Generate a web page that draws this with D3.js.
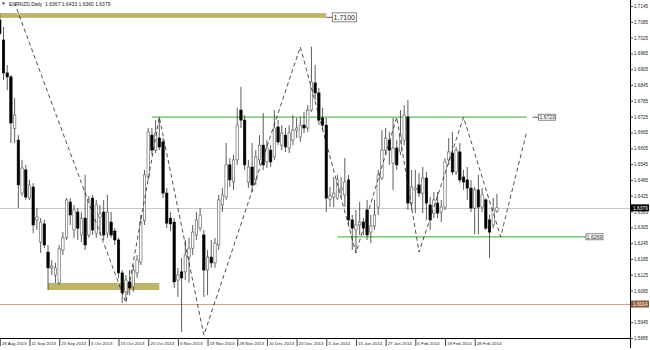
<!DOCTYPE html>
<html>
<head>
<meta charset="utf-8">
<script src="https://cdn.jsdelivr.net/npm/d3@7"></script>
<style>
  body { margin: 0; background: #fff; }
  svg { display: block; }
  text { font-family: "Liberation Sans", Arial, sans-serif; }
</style>
</head>
<body>
<svg width="650" height="350"></svg>
<script>
// EURNZD daily, one value per bar (bar 0 is the partly hidden one at the left edge)
const opens = [1.7092,1.7016,1.6891,1.6876,1.6680,1.6636,1.6435,1.6523,1.6416,1.6458,1.6333,1.6249,1.6318,1.6211,1.6151,1.6124,1.6094,1.6219,1.6265,1.6401,1.6295,1.6363,1.6276,1.6340,1.6276,1.6416,1.6283,1.6344,1.6363,1.6283,1.6325,1.6291,1.6257,1.6132,1.6060,1.6098,1.6079,1.6132,1.6173,1.6330,1.6496,1.6655,1.6598,1.6644,1.6629,1.6435,1.6340,1.6325,1.6105,1.6136,1.6136,1.6192,1.6226,1.6276,1.6302,1.6276,1.6143,1.6192,1.6170,1.6238,1.6390,1.6420,1.6542,1.6477,1.6561,1.6750,1.6712,1.6477,1.6534,1.6485,1.6561,1.6617,1.6553,1.6598,1.6572,1.6686,1.6617,1.6655,1.6606,1.6636,1.6674,1.6648,1.6693,1.6682,1.6750,1.6853,1.6815,1.6720,1.6693,1.6412,1.6420,1.6416,1.6447,1.6428,1.6485,1.6333,1.6295,1.6314,1.6325,1.6371,1.6287,1.6310,1.6382,1.6492,1.6598,1.6636,1.6549,1.6606,1.6591,1.6636,1.6724,1.6397,1.6447,1.6466,1.6435,1.6492,1.6390,1.6359,1.6397,1.6363,1.6382,1.6561,1.6587,1.6515,1.6591,1.6496,1.6485,1.6454,1.6378,1.6447,1.6382,1.6409,1.6333,1.6314,1.6367];
const highs = [1.7118,1.7065,1.6921,1.6883,1.6796,1.6655,1.6561,1.6542,1.6485,1.6473,1.6378,1.6340,1.6333,1.6238,1.6181,1.6170,1.6238,1.6287,1.6416,1.6416,1.6390,1.6378,1.6363,1.6504,1.6424,1.6428,1.6409,1.6390,1.6409,1.6428,1.6363,1.6302,1.6265,1.6143,1.6124,1.6143,1.6162,1.6200,1.6352,1.6523,1.6682,1.6682,1.6712,1.6724,1.6644,1.6454,1.6363,1.6340,1.6151,1.6189,1.6257,1.6265,1.6314,1.6363,1.6378,1.6295,1.6219,1.6257,1.6265,1.6428,1.6454,1.6625,1.6568,1.6580,1.6758,1.6838,1.6731,1.6561,1.6625,1.6598,1.6655,1.6739,1.6636,1.6617,1.6750,1.6712,1.6693,1.6682,1.6693,1.6731,1.6720,1.6724,1.6743,1.6769,1.6990,1.6921,1.6834,1.6758,1.6720,1.6458,1.6496,1.6504,1.6496,1.6568,1.6504,1.6352,1.6371,1.6401,1.6340,1.6409,1.6352,1.6409,1.6523,1.6674,1.6682,1.6667,1.6720,1.6636,1.6750,1.6769,1.6788,1.6523,1.6523,1.6511,1.6534,1.6515,1.6420,1.6439,1.6439,1.6409,1.6568,1.6644,1.6667,1.6610,1.6625,1.6523,1.6534,1.6485,1.6458,1.6504,1.6454,1.6416,1.6352,1.6416,1.6433];
const lows = [1.7035,1.6864,1.6826,1.6625,1.6625,1.6378,1.6424,1.6409,1.6409,1.6283,1.6295,1.6208,1.6226,1.6067,1.6124,1.6094,1.6086,1.6200,1.6257,1.6314,1.6265,1.6257,1.6249,1.6219,1.6265,1.6276,1.6265,1.6276,1.6257,1.6265,1.6265,1.6238,1.6113,1.6018,1.6029,1.6048,1.6060,1.6113,1.6162,1.6314,1.6485,1.6580,1.6587,1.6598,1.6416,1.6302,1.6291,1.6075,1.6041,1.5908,1.6105,1.6094,1.6200,1.6257,1.6291,1.6041,1.6048,1.6151,1.6151,1.6219,1.6363,1.6409,1.6458,1.6447,1.6542,1.6682,1.6523,1.6454,1.6439,1.6466,1.6542,1.6523,1.6530,1.6534,1.6561,1.6617,1.6598,1.6591,1.6587,1.6617,1.6644,1.6629,1.6663,1.6667,1.6743,1.6788,1.6693,1.6674,1.6363,1.6382,1.6382,1.6409,1.6420,1.6382,1.6314,1.6219,1.6208,1.6276,1.6276,1.6257,1.6245,1.6295,1.6352,1.6485,1.6580,1.6542,1.6447,1.6523,1.6580,1.6617,1.6371,1.6371,1.6359,1.6420,1.6359,1.6333,1.6295,1.6340,1.6340,1.6325,1.6371,1.6542,1.6504,1.6504,1.6473,1.6447,1.6409,1.6363,1.6279,1.6279,1.6363,1.6295,1.6189,1.6302,1.6360];
const closes = [1.7040,1.6891,1.6876,1.6701,1.6731,1.6466,1.6530,1.6420,1.6466,1.6314,1.6344,1.6325,1.6238,1.6151,1.6158,1.6151,1.6223,1.6265,1.6409,1.6352,1.6371,1.6302,1.6340,1.6238,1.6409,1.6295,1.6390,1.6356,1.6276,1.6363,1.6276,1.6257,1.6132,1.6056,1.6105,1.6075,1.6143,1.6181,1.6325,1.6504,1.6667,1.6598,1.6663,1.6610,1.6435,1.6321,1.6318,1.6098,1.6124,1.6113,1.6200,1.6226,1.6287,1.6333,1.6352,1.6143,1.6192,1.6170,1.6245,1.6409,1.6428,1.6542,1.6485,1.6561,1.6693,1.6712,1.6542,1.6534,1.6466,1.6572,1.6617,1.6542,1.6606,1.6553,1.6682,1.6629,1.6663,1.6610,1.6663,1.6674,1.6682,1.6693,1.6682,1.6750,1.6857,1.6815,1.6712,1.6693,1.6416,1.6424,1.6435,1.6485,1.6454,1.6477,1.6333,1.6302,1.6314,1.6325,1.6302,1.6276,1.6310,1.6352,1.6504,1.6598,1.6644,1.6598,1.6606,1.6542,1.6655,1.6731,1.6397,1.6458,1.6454,1.6435,1.6492,1.6397,1.6333,1.6409,1.6359,1.6382,1.6553,1.6591,1.6515,1.6598,1.6485,1.6477,1.6454,1.6378,1.6447,1.6382,1.6428,1.6302,1.6287,1.6371,1.6379];

// time axis: one label every 8 bars
const dateLabels = ["28 Aug 2013","11 Sep 2013","23 Sep 2013","3 Oct 2013","15 Oct 2013","25 Oct 2013","6 Nov 2013","18 Nov 2013","28 Nov 2013","10 Dec 2013","20 Dec 2013","3 Jan 2014","15 Jan 2014","27 Jan 2014","6 Feb 2014","18 Feb 2014","28 Feb 2014"];
const dateBars = [0,8,16,24,32,40,48,56,64,72,80,88,96,104,112,120,128];
const priceTicks = [1.7145,1.7085,1.7025,1.6965,1.6905,1.6845,1.6785,1.6725,1.6665,1.6605,1.6545,1.6485,1.6425,1.6365,1.6305,1.6245,1.6185,1.6125,1.6065,1.6005,1.5945,1.5885];

// drawn objects
const zigzagBars = [0,34,43,55,81,96,107,113,125,135,142];
const zigzagPrices = [1.7308,1.6018,1.6723,1.5896,1.6990,1.6208,1.6723,1.6211,1.6723,1.6269,1.6667];
const zoneBars = [[0,88],[13,43]];
const zonePrices = [[1.7100,1.7118],[1.6067,1.6094]];
const levelBars = [[41,142],[91,158]];
const levelPrices = [1.6723,1.6269];
const bidPrice = 1.6379;
const supportPrice = 1.6014;
const header = "EURNZD,Daily  1.6367 1.6433 1.6360 1.6379";

const svg = d3.select("svg");
const plotRight = 630, plotBottom = 338;

const x = d3.scaleLinear().domain([0, 134]).range([-0.2, 496.94]);
const y = d3.scaleLinear().domain([1.5885, 1.7145]).range([338, 6]);

svg.append("defs").append("clipPath").attr("id", "plot")
  .append("rect").attr("x", 0).attr("y", 0).attr("width", plotRight).attr("height", plotBottom);

const plot = svg.append("g").attr("clip-path", "url(#plot)");

// khaki zones
plot.selectAll("rect.zone").data(zoneBars).join("rect")
  .attr("class", "zone")
  .attr("x", d => x(d[0]))
  .attr("width", d => x(d[1]) - x(d[0]))
  .attr("y", (d, i) => y(zonePrices[i][1]))
  .attr("height", (d, i) => y(zonePrices[i][0]) - y(zonePrices[i][1]))
  .attr("fill", "#bdb56b");

// bid line and support line
plot.append("line")
  .attr("x1", 0).attr("x2", plotRight)
  .attr("y1", Math.round(y(bidPrice)) + 0.5).attr("y2", Math.round(y(bidPrice)) + 0.5)
  .attr("stroke", "#c8c8c8");
plot.append("line")
  .attr("x1", 0).attr("x2", plotRight)
  .attr("y1", Math.round(y(supportPrice)) + 0.5).attr("y2", Math.round(y(supportPrice)) + 0.5)
  .attr("stroke", "#c9a48e");

// green levels
plot.selectAll("line.level").data(levelBars).join("line")
  .attr("class", "level")
  .attr("x1", d => x(d[0])).attr("x2", d => x(d[1]))
  .attr("y1", (d, i) => y(levelPrices[i])).attr("y2", (d, i) => y(levelPrices[i]))
  .attr("stroke", "#5cbb5c").attr("stroke-width", 1.2);

// candles
const bars = d3.range(opens.length).map(i => ({i, o: opens[i], h: highs[i], l: lows[i], c: closes[i]}));
const candle = plot.selectAll("g.candle").data(bars).join("g").attr("class", "candle");
candle.append("line")
  .attr("x1", d => x(d.i)).attr("x2", d => x(d.i))
  .attr("y1", d => y(d.h)).attr("y2", d => y(d.l))
  .attr("stroke", "#333").attr("stroke-width", 0.8);
candle.append("rect")
  .attr("x", d => x(d.i) - 1.2)
  .attr("width", 2.4)
  .attr("y", d => y(Math.max(d.o, d.c)))
  .attr("height", d => Math.max(0.8, Math.abs(y(d.o) - y(d.c))))
  .attr("fill", d => d.c >= d.o ? "#fff" : "#000")
  .attr("stroke", d => d.c >= d.o ? "#555" : "#000")
  .attr("stroke-width", 0.6);

// dashed zigzag
const zz = zigzagBars.map((b, i) => [x(b), y(zigzagPrices[i])]);
plot.append("path")
  .attr("d", d3.line()(zz))
  .attr("fill", "none").attr("stroke", "#222").attr("stroke-width", 0.8)
  .attr("stroke-dasharray", "4,3");

// price labels of drawn objects
function tag(px, py, txt, size, w, h) {
  const g = svg.append("g");
  g.append("rect").attr("x", px).attr("y", py - h / 2).attr("width", w).attr("height", h)
    .attr("fill", "#fff").attr("stroke", "#555").attr("stroke-width", 0.7);
  g.append("text").attr("x", px + w / 2).attr("y", py).attr("dy", "0.35em")
    .attr("text-anchor", "middle").attr("font-size", size).attr("fill", "#222").text(txt);
}
const z0 = x(zoneBars[0][1]);
svg.append("line").attr("x1", z0).attr("x2", z0 + 6)
  .attr("y1", y(zonePrices[0][0]) - 0.5).attr("y2", y(zonePrices[0][0]) - 0.5).attr("stroke", "#555");
tag(z0 + 6, y(zonePrices[0][0]) - 0.5, "1.7100", 7, 24, 9);

const l0 = x(levelBars[0][1]);
svg.append("line").attr("x1", l0 + 6).attr("x2", l0 + 12)
  .attr("y1", y(levelPrices[0])).attr("y2", y(levelPrices[0])).attr("stroke", "#555");
tag(l0 + 12, y(levelPrices[0]), d3.format(".4f")(levelPrices[0]), 5, 17, 6);
tag(x(levelBars[1][1]), y(levelPrices[1]), d3.format(".4f")(levelPrices[1]), 5, 17, 6);

// price axis
svg.append("line").attr("x1", plotRight + 0.5).attr("x2", plotRight + 0.5)
  .attr("y1", 0).attr("y2", 348).attr("stroke", "#000");
const yAxis = svg.append("g").attr("transform", `translate(${plotRight},0)`)
  .call(d3.axisRight(y).tickValues(priceTicks).tickSize(3).tickPadding(1).tickFormat(d3.format(".4f")));
yAxis.select(".domain").remove();
yAxis.selectAll("text").attr("font-size", 4.6).attr("fill", "#222").attr("font-family", "Liberation Sans, Arial, sans-serif");
yAxis.selectAll("line").attr("stroke", "#444");
// the support badge covers the tick label right under it
yAxis.selectAll(".tick").filter(d => Math.abs(y(d) - y(supportPrice)) < 5).select("text").remove();

function badge(price, bg, fg) {
  const g = svg.append("g");
  g.append("rect").attr("x", plotRight + 1).attr("y", y(price) - 3.5).attr("width", 18).attr("height", 7).attr("fill", bg);
  g.append("text").attr("x", plotRight + 3).attr("y", y(price)).attr("dy", "0.35em")
    .attr("font-size", 4.8).attr("fill", fg).text(d3.format(".4f")(price));
}
badge(bidPrice, "#000", "#fff");
badge(supportPrice, "#8e5d3c", "#fff");

// time axis
svg.append("line").attr("x1", 0).attr("x2", plotRight).attr("y1", plotBottom + 0.5).attr("y2", plotBottom + 0.5)
  .attr("stroke", "#000");
const xAxis = svg.append("g").attr("transform", `translate(0,${plotBottom})`)
  .call(d3.axisBottom(x).tickValues(dateBars).tickSize(8).tickFormat((d, i) => dateLabels[i]));
xAxis.select(".domain").remove();
xAxis.selectAll("line").attr("stroke", "#444");
xAxis.selectAll("text").attr("text-anchor", "start").attr("x", 1.5).attr("y", 5).attr("dy", "0.35em")
  .attr("font-size", 4.4).attr("fill", "#222").attr("font-family", "Liberation Sans, Arial, sans-serif");

// header
svg.append("path").attr("d", "M2,2.5 L5,2.5 L3.5,5 Z").attr("fill", "#333");
svg.append("text").attr("x", 9).attr("y", 5.5).attr("font-size", 5).attr("fill", "#222")
  .attr("xml:space", "preserve").style("white-space", "pre").text(header);
</script>
</body>
</html>
